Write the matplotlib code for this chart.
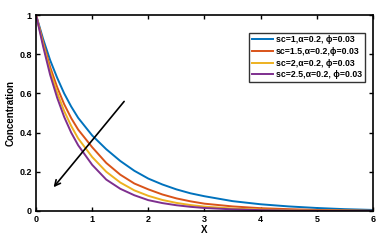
import matplotlib
matplotlib.use('Agg')
import matplotlib.pyplot as plt

# values
x = [0, 0.125, 0.25, 0.375, 0.5, 0.625, 0.75, 1, 1.25, 1.5, 1.75, 2, 2.25, 2.5, 2.75, 3, 3.5, 4, 4.5, 5, 5.5, 6]
c_sc1 = [1, 0.878, 0.77, 0.68, 0.60, 0.533, 0.475, 0.385, 0.315, 0.255, 0.205, 0.165, 0.135, 0.11, 0.09, 0.075, 0.05, 0.034, 0.023, 0.015, 0.009, 0.005]
c_sc15 = [1, 0.862, 0.735, 0.632, 0.545, 0.474, 0.415, 0.325, 0.245, 0.185, 0.14, 0.11, 0.084, 0.064, 0.049, 0.037, 0.023, 0.014, 0.009, 0.005, 0.003, 0.001]
c_sc2 = [1, 0.852, 0.715, 0.604, 0.51, 0.434, 0.37, 0.275, 0.2, 0.145, 0.105, 0.077, 0.056, 0.041, 0.03, 0.022, 0.012, 0.007, 0.004, 0.002, 0.001, 0.0]
c_sc25 = [1, 0.84, 0.695, 0.578, 0.48, 0.4, 0.335, 0.235, 0.16, 0.113, 0.08, 0.055, 0.04, 0.029, 0.021, 0.015, 0.008, 0.004, 0.002, 0.001, 0.0, 0.0]
labels = ['sc=1,α=0.2, ϕ=0.03',
          'sc=1.5,α=0.2,ϕ=0.03',
          'sc=2,α=0.2, ϕ=0.03',
          'sc=2.5,α=0.2, ϕ=0.03']
colors = ['#0072BD', '#D95319', '#EDB120', '#7E2F8E']

plt.rcParams['font.family'] = ['Liberation Sans', 'DejaVu Sans']
plt.rcParams['font.weight'] = 'bold'

fig = plt.figure(figsize=(3.84, 2.43), dpi=100)
ax = fig.add_axes([0.094, 0.132, 0.877, 0.806])

for ys, lab, col in zip([c_sc1, c_sc15, c_sc2, c_sc25], labels, colors):
    ax.plot(x, ys, color=col, lw=1.4, label=lab)

ax.annotate('', xy=(0.28, 0.11), xytext=(1.6, 0.57),
            arrowprops=dict(arrowstyle='->', color='black', lw=1.2, mutation_scale=10))

ax.set_xlim(0, 6)
ax.set_ylim(0, 1)
ax.set_xticks(range(0, 7))
ax.set_yticks([0, 0.2, 0.4, 0.6, 0.8, 1])
ax.set_yticklabels(['0', '0.2', '0.4', '0.6', '0.8', '1'])
ax.tick_params(direction='in', top=True, right=True, labelsize=6.5, length=3, width=1, pad=3)
for s in ax.spines.values():
    s.set_linewidth(1.2)
ax.set_xlabel('X', fontsize=7, fontweight='bold', labelpad=1)
ax.set_ylabel('Concentration', fontsize=7, fontweight='bold', labelpad=3)

leg = ax.legend(loc='upper right', bbox_to_anchor=(0.976, 0.91), fontsize=6.3,
                frameon=True, fancybox=False, edgecolor='black',
                handlelength=2.4, handletextpad=0.4, borderpad=0.3,
                labelspacing=0.3, borderaxespad=0)
leg.get_frame().set_linewidth(1.0)
for t in leg.get_texts():
    t.set_fontweight('bold')

fig.savefig('out.png', dpi=100)
